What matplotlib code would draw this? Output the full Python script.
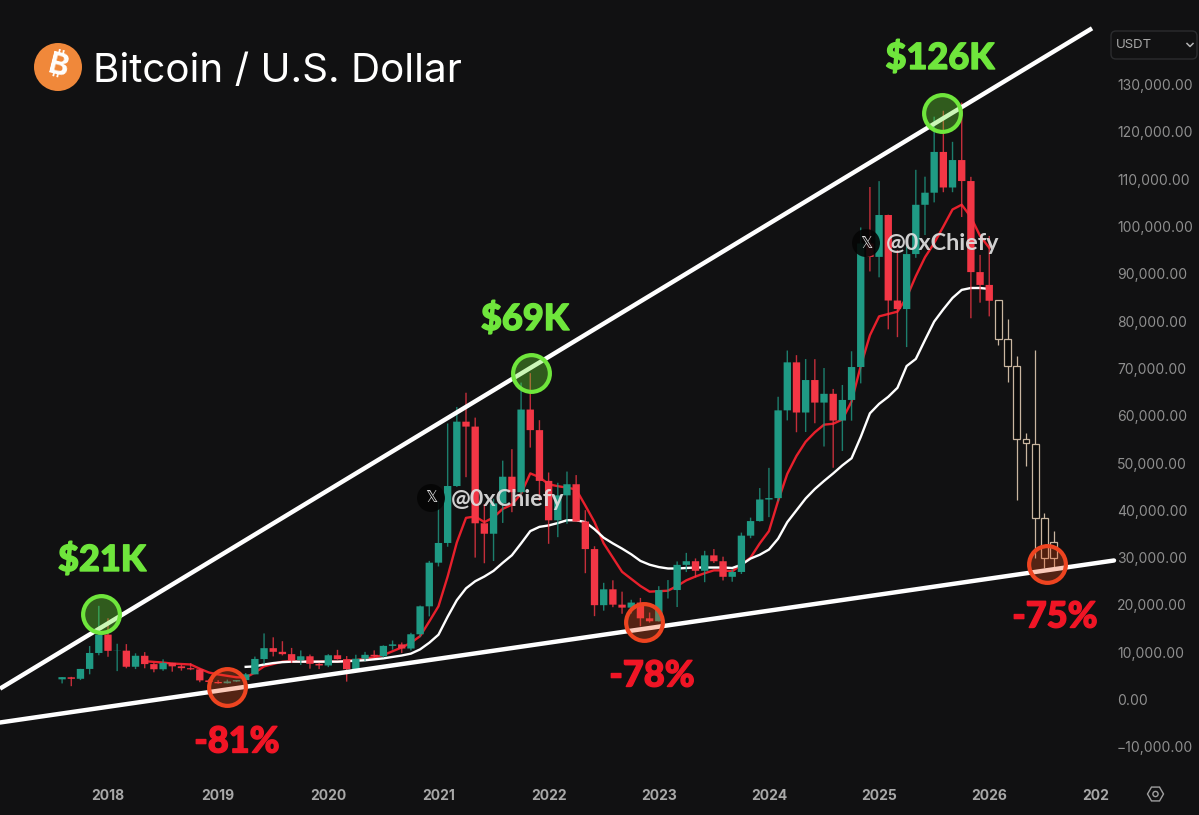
import matplotlib
matplotlib.use("Agg")
import matplotlib.pyplot as plt
import matplotlib.patheffects as pe
from matplotlib.patches import Circle, FancyBboxPatch, RegularPolygon

# Monthly candles, Aug 2017 to Jan 2026; month index 0 = Jan 2018
first_month = -5
opens = [4261,4689,4378,6463,9837,13715,10285,10325,6922,9246,7485,6391,7735,7011,6626,6369,4041,
         3701,3434,3814,4102,5320,8555,10854,10080,9588,8289,9140,7541,
         7195,9352,8523,6412,8620,9448,9138,11335,11649,10776,13791,19698,
         28923,33092,45134,58739,57697,37253,35045,41461,47100,43820,61299,56950,
         46216,37881,43160,45510,37630,31801,19942,23296,20050,19422,20490,17164,
         16541,23125,23141,28465,29233,27210,30472,29232,25940,26962,34639,37724,
         42283,42580,61130,71280,60672,67540,62772,64628,58973,63328,70292,96408,
         93576,102429,84349,82550,94172,104591,107146,115764,108246,114048,109608,90360,87648]
highs = [4745,4789,6470,11300,19798,17176,11786,11710,9759,10020,7786,8491,7750,7410,7680,6586,4312,
         4069,4198,4123,5600,9074,13970,13147,12325,10905,10370,9500,7750,
         9578,10500,9188,9460,10067,10380,11444,12468,12050,14100,19863,29300,
         41950,58352,61844,64854,59592,41330,42448,50500,52920,67000,69000,59053,
         47990,45821,48189,47444,40023,32400,24668,25200,22799,21085,21480,18387,
         23960,25250,29184,31000,29820,31431,31804,30191,27483,35280,38450,44700,
         48969,64000,73777,72797,71979,71950,70079,65660,66498,73620,99800,108353,
         109588,102500,95000,95758,111980,110530,123218,124474,117900,126199,110500,94000,98000]
lows = [3400,2817,4110,5325,9355,9035,6000,6600,6430,6600,5755,6070,5880,6100,6200,3652,3156,
        3349,3373,3689,4067,5316,7451,9110,9320,7710,7300,6515,6435,
        6850,8445,3782,6150,8106,8833,8893,10525,9825,10374,13195,17572,
        28130,32296,44950,47000,30000,28805,29278,37332,39600,43283,53256,42000,
        32917,34322,37155,37578,26700,17622,18781,19520,18125,18190,15476,16256,
        16499,21351,19549,26942,25811,24800,28861,25166,24900,26538,34097,37615,
        38555,41884,59005,56500,56552,58402,53485,49000,52550,58946,66835,90500,
        89256,78258,76606,74508,93377,98200,105100,107250,107250,102000,80600,83900,81000]
closes = [4724,4378,6463,9838,13716,10285,10326,6923,9246,7485,6391,7730,7011,6626,6371,4041,3702,
          3434,3814,4103,5320,8574,10854,10080,9588,8289,9140,7541,7195,
          9353,8523,6410,8620,9448,9138,11335,11649,10776,13791,19700,28923,
          33092,45135,58740,57694,37253,35045,41461,47100,43824,61299,56950,46216,
          37881,43160,45510,37630,31801,19942,23293,20050,19422,20490,17164,16542,
          23125,23141,28465,29233,27210,30472,29232,25940,26962,34639,37724,42283,
          42580,61130,71280,60672,67540,62772,64628,58973,63328,70292,96408,93576,
          102429,84349,82550,94172,104591,107146,115764,108246,114048,109608,90360,87648,84300]

# Projected hollow candles, Feb to Aug 2026
proj_first_month = 97
proj_opens = [84400,76250,70470,55100,54120,38470,33200]
proj_highs = [84400,80470,72580,56370,73990,39400,35600]
proj_lows = [74900,67090,42280,49330,30000,27900,27900]
proj_closes = [76250,70470,55100,54200,38400,29870,29870]

# Moving averages
red_ma_start = 4
red_ma = [8100,7950,7800,7600,7500,7400,6500,5700,5300,5000,4700,4650,5700,7000,7500,8000,8100,8000,
          8000,8000,8100,8000,8200,8300,8700,8900,9400,10200,11000,12000,13400,16500,19700,26000,33200,
          38400,38700,37500,38500,40300,41200,43500,47800,47000,45500,45100,44800,44400,41000,37500,
          33000,30000,27000,25500,24000,22800,22900,23000,24000,25200,26000,26700,27300,27300,27100,
          28500,30000,33000,35600,42000,47700,51500,54500,56500,58100,58300,59200,63000,70500,77000,
          81000,81500,82000,85000,89500,93500,96500,100000,103600,104600,102000,98000,95500]
white_ma_start = 15
white_ma = [6900,7000,7400,7700,7900,8000,8000,8000,8000,8000,8000,8100,8200,8300,8500,8700,9000,
            9300,9700,10600,12000,13700,17500,21000,23500,25000,26000,27200,28900,30500,33000,35600,
            36500,36800,37300,37900,37900,37500,36000,34200,33000,31900,30700,29300,28500,28000,27700,
            27700,27800,27900,27900,27900,27900,27800,28500,29800,30600,31700,34000,37500,40000,42500,
            44500,46200,47800,49500,51000,55500,60500,62500,64000,65900,70500,72000,76000,79900,82500,
            84900,86600,87000,87000,86800]

# Trendlines
upper_line_m = [-11.76, 107.2]
upper_line_p = [2300, 141900]
lower_line_m = [-11.76, 109.59]
lower_line_p = [-4860, 29390]

# Highlighted tops and bottoms
top_m = [-0.75, 46.1, 90.8]
top_p = [18100, 69000, 124000]
top_labels = ["$21K", "$69K", "$126K"]
bottom_m = [13, 58.4, 102.3]
bottom_p = [2650, 16400, 28700]
bottom_labels = ["-81%", "-78%", "-75%"]

year_labels = ["2018","2019","2020","2021","2022","2023","2024","2025","2026","202"]
year_ticks = [0,12,24,36,48,60,72,84,96,107.6]
price_ticks = [-10000,0,10000,20000,30000,40000,50000,60000,70000,80000,90000,100000,110000,120000,130000]

BG = "#111112"
TEAL = "#1f9a84"
RED = "#f23645"
TAN = "#c9b6a0"
GREEN = "#6fe63c"
LABEL_RED = "#f01525"
W, H = 1199, 815

plt.rcParams["font.family"] = ["Inter", "Noto Sans", "Roboto", "Open Sans", "DejaVu Sans"]
fig = plt.figure(figsize=(W/100, H/100), dpi=100, facecolor=BG)

ax = fig.add_axes([0, 1-778/H, 1114/W, 778/H], facecolor=BG)
ax.set_xlim(-11.765, 109.59)
ax.set_ylim((699.5-778)*10000/47.3, 699.5*10000/47.3)
for s in ax.spines.values():
    s.set_visible(False)

months = [first_month+i for i in range(len(opens))]
colors = [TEAL if c >= o else RED for o, c in zip(opens, closes)]
wicks = ax.vlines(months, lows, highs, colors=colors, lw=1.0, alpha=0.8, zorder=3)
wicks.set_snap(False)
bodies = ax.bar(months, [abs(c-o) for o, c in zip(opens, closes)],
                bottom=[min(o, c) for o, c in zip(opens, closes)],
                width=0.8, color=colors, zorder=3.2)
for b in bodies:
    b.set_snap(False)

pm = [proj_first_month+i for i in range(len(proj_opens))]
ax.vlines(pm, proj_lows, proj_highs, colors=TAN, lw=0.9, zorder=3)
ax.bar(pm, [abs(c-o) for o, c in zip(proj_opens, proj_closes)],
       bottom=[min(o, c) for o, c in zip(proj_opens, proj_closes)],
       width=0.74, facecolor="#0a0a0a", edgecolor=TAN, linewidth=0.9, zorder=3.2)

ax.plot([red_ma_start+i for i in range(len(red_ma))], red_ma, color="#e8202c", lw=1.7, zorder=2)
ax.plot([white_ma_start+i for i in range(len(white_ma))], white_ma, color="white", lw=1.7, zorder=2)

ax.plot(upper_line_m, upper_line_p, color="white", lw=3.2, zorder=4, solid_capstyle="butt")
ax.plot(lower_line_m, lower_line_p, color="white", lw=3.2, zorder=4, solid_capstyle="round", clip_on=False)

ax.scatter(top_m, top_p, s=700, facecolor=(0.42, 0.9, 0.2, 0.35), edgecolor=GREEN, linewidth=3.0, zorder=5, clip_on=False)
ax.scatter(bottom_m, bottom_p, s=700, facecolor=(0.95, 0.3, 0.1, 0.3), edgecolor="#ee4420", linewidth=3.0, zorder=5, clip_on=False)

ax.set_xticks(year_ticks)
ax.set_xticklabels(year_labels, fontsize=10, fontweight="bold", color="#a8a8a8")
ax.set_yticks(price_ticks)
ax.set_yticklabels([f"{p:,.2f}".replace("-", "\u2212") for p in price_ticks], fontsize=10, color="#8f8f8f", ha="left")
ax.yaxis.tick_right()
ax.tick_params(axis="both", length=0)
ax.tick_params(axis="y", pad=2.2)
ax.tick_params(axis="x", pad=8)

# Overlay in picture pixels for the header, labels and watermarks
ov = fig.add_axes([0, 0, 1, 1], facecolor="none")
ov.set_xlim(0, W)
ov.set_ylim(H, 0)
ov.axis("off")

ov.add_patch(Circle((58, 67), 24, facecolor="#f0883a", edgecolor="none"))
ov.text(58, 67, "\u20bf", color="white", fontsize=22, fontweight="bold",
        family=["Inter", "Noto Sans", "Roboto", "Open Sans", "Lato", "Liberation Sans", "DejaVu Sans"],
        ha="center", va="center", rotation=-14)
ov.text(93, 67, "Bitcoin / U.S. Dollar", color="white", fontsize=29.1, ha="left", va="center_baseline")

ov.add_patch(FancyBboxPatch((1113, 33), 82, 24, boxstyle="round,pad=2,rounding_size=5",
                            facecolor=BG, edgecolor="#2b2c2e", lw=1))
ov.text(1116, 45, "USDT", color="#a8a8a8", fontsize=9.5, ha="left", va="center")
ov.plot([1187, 1190, 1193], [43.5, 46.5, 43.5], color="#b5b5b5", lw=1.1)

ov.add_patch(RegularPolygon((1155.5, 794), 6, radius=8, orientation=0.5236, fill=False, edgecolor="#a0a0a0", lw=1))
ov.add_patch(Circle((1155.5, 794), 2.6, fill=False, edgecolor="#a0a0a0", lw=1))

thick = lambda c: [pe.withStroke(linewidth=1.0, foreground=c)]
for (x, y), t in zip([(102, 560), (525, 319), (940, 58)], top_labels):
    ov.text(x, y, t, color=GREEN, fontsize=26, family="Lato", fontweight="black",
            ha="center", va="center", path_effects=thick(GREEN))
for (x, y), t in zip([(237, 742), (652, 676), (1055, 617)], bottom_labels):
    ov.text(x, y, t, color=LABEL_RED, fontsize=26, family="Lato", fontweight="black",
            ha="center", va="center", path_effects=thick(LABEL_RED))

for cx, cy in [(431, 498), (866, 243)]:
    ov.add_patch(Circle((cx, cy), 14, facecolor="#050505", alpha=0.9, edgecolor="none", zorder=6))
    ov.text(cx, cy, "\U0001D54F", color="#dddddd", fontsize=11, family="DejaVu Sans", ha="center", va="center", zorder=7)
    ov.text(cx+20, cy+1, "@0xChiefy", color="#e0e0e0", fontsize=16.8, family="Lato", fontweight="bold",
            ha="left", va="center", zorder=7, alpha=0.92)

fig.savefig("out.png", dpi=100, facecolor=BG)
